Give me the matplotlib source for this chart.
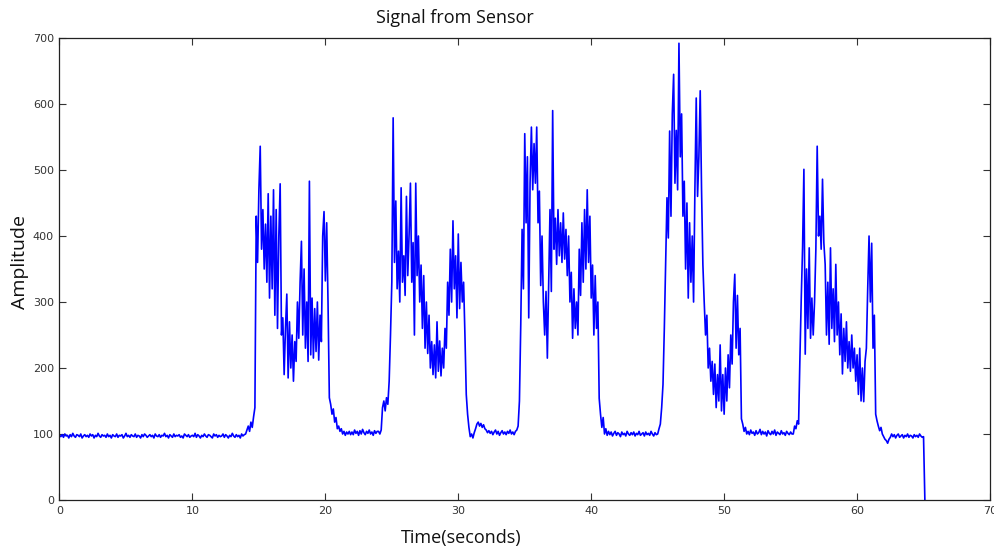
import numpy as np
import matplotlib
matplotlib.use("Agg")
import matplotlib.pyplot as plt

# ---------------- data (0.1 s sampling) ----------------
dt = 0.1

base0_start = 0.0
base0 = [
    98, 96, 99, 95, 100, 97, 98, 94, 99, 96, 101, 97, 95, 99, 98, 96, 100, 94, 97, 99,
    96, 98, 95, 100, 97, 99, 94, 98, 96, 101, 97, 95, 99, 97, 98, 95, 100, 96, 98, 94,
    99, 97, 96, 100, 95, 98, 97, 99, 94, 97, 101, 96, 98, 95, 99, 97, 96, 100, 95, 98,
    97, 94, 99, 96, 100, 98, 95, 97, 99, 96, 98, 94, 100, 97, 96, 99, 95, 98, 97, 101,
    96, 98, 94, 99, 97, 95, 100, 96, 98, 97, 99, 95, 97, 94, 100, 98, 96, 99, 95, 97,
    98, 96, 101, 95, 99, 97, 94, 98, 96, 100, 97, 95, 99, 98, 96, 94, 100, 97, 99, 95,
    98, 96, 97, 100, 95, 99, 97, 94, 98, 96, 101, 97, 95, 99, 96, 98, 94, 100, 97, 99]

burst1_start = 14.0
burst1 = [
    100, 106, 112, 104, 118, 110, 126, 140, 430, 360,
    470, 536, 380, 440, 350, 418, 330, 464, 306, 430,
    320, 470, 280, 440, 260, 400, 479, 250, 276, 190,
    260, 312, 185, 270, 200, 250, 180, 240, 210, 300,
    245, 330, 392, 250, 350, 230, 300, 210, 483, 220,
    306, 215, 290, 225, 300, 212, 280, 240, 400, 437,
    332, 420, 300, 155, 145, 130, 138, 118, 125, 108,
    112, 104, 108, 100, 104, 98, 103, 100, 104, 99]

base1_start = 22.0
base1 = [103, 99, 106, 101, 104, 98, 105, 100, 107, 102,
         99, 104, 101, 106, 100, 103, 98, 105, 101, 104]

burst2_start = 24.0
burst2 = [
    104, 100, 106, 140, 150, 135, 155, 145, 180, 250,
    330, 579, 360, 453, 320, 377, 300, 473, 330, 370,
    310, 460, 340, 403, 480, 330, 390, 250, 480, 340,
    400, 300, 356, 260, 340, 230, 300, 222, 280, 200,
    240, 190, 235, 185, 270, 195, 241, 188, 230, 200,
    260, 230, 330, 280, 380, 300, 423, 320, 370, 276,
    403, 290, 360, 300, 330, 250, 160, 130, 110, 96,
    100, 94, 102, 108, 115, 118, 112, 116, 110, 114,
    108, 106, 102]

base2_start = 32.3
base2 = [105, 101, 104, 99, 103, 106, 100, 104, 98, 102,
         105, 100, 103, 99, 104, 101, 106, 100, 103, 99, 104]

burst3_start = 34.4
burst3 = [
    106, 112, 150, 266, 410, 320, 555, 420, 520, 276,
    480, 565, 470, 540, 480, 565, 420, 468, 325, 400,
    300, 250, 316, 215, 330, 440, 316, 590, 380, 427,
    357, 440, 370, 420, 360, 435, 365, 410, 340, 400,
    300, 345, 245, 320, 260, 300, 250, 380, 310, 420,
    330, 440, 350, 470, 360, 430, 306, 356, 250, 340,
    260, 300, 154, 130, 110, 125, 100, 108, 98, 104]

base3_start = 41.4
base3 = [99, 103, 97, 101, 104, 98, 102, 100, 96, 103,
         99, 101, 97, 104, 100, 98, 102, 99, 103, 97,
         101, 99, 104, 98, 100, 102, 97, 103, 99, 101,
         98, 104, 100, 97, 102, 99]

burst4_start = 45.0
burst4 = [
    100, 108, 115, 140, 175, 260, 357, 458, 397, 559,
    430, 585, 645, 480, 560, 470, 692, 520, 585, 430,
    483, 350, 450, 306, 420, 330, 400, 300, 470, 609,
    460, 520, 620, 470, 357, 300, 250, 280, 200, 230,
    180, 210, 160, 206, 140, 190, 150, 235, 135, 190,
    130, 200, 150, 220, 170, 250, 206, 300, 342, 230,
    310, 220, 260, 123, 115, 104, 110, 100]

base4_start = 51.8
base4 = [104, 99, 106, 101, 103, 98, 105, 100, 102, 107,
         99, 104, 100, 103, 97, 105, 101, 99, 104, 100,
         106, 98, 103, 101, 99, 105, 100, 102, 98, 104,
         101, 99, 103, 100]

burst5_start = 55.2
burst5 = [
    100, 112, 108, 120, 115, 215, 305, 382, 501, 221,
    350, 260, 382, 245, 306, 250, 300, 380, 536, 400,
    430, 380, 486, 390, 357, 250, 330, 236, 382, 260,
    320, 240, 357, 250, 300, 220, 282, 191, 260, 210,
    270, 200, 240, 195, 250, 200, 230, 180, 220, 160,
    230, 150, 200, 149, 210, 230, 320, 400, 300, 389,
    230, 280, 130, 120, 112, 105, 110, 100, 96, 92,
    90, 86, 92, 95, 100]

base5_start = 62.7
base5 = [96, 99, 94, 98, 100, 95, 97, 99, 94, 98,
         96, 100, 95, 98, 97, 94, 99, 96, 98, 95,
         100, 97, 95, 96, 0]

segments = [(base0_start, base0), (burst1_start, burst1), (base1_start, base1),
            (burst2_start, burst2), (base2_start, base2), (burst3_start, burst3),
            (base3_start, base3), (burst4_start, burst4), (base4_start, base4),
            (burst5_start, burst5), (base5_start, base5)]

x_ticks = [0, 10, 20, 30, 40, 50, 60, 70]
y_ticks = [0, 100, 200, 300, 400, 500, 600, 700]

t_all = np.concatenate([s + np.arange(len(v)) * dt for s, v in segments])
v_all = np.concatenate([np.asarray(v, float) for s, v in segments])

# ---------------- figure ----------------
W, H = 995, 550
fig = plt.figure(figsize=(W / 100, H / 100), dpi=100)
ax = fig.add_axes([59.5 / W, 1 - 500 / H, (990 - 59.5) / W, (500 - 38) / H])

ax.plot(t_all, v_all, color="#0000ff", lw=1.2)

ax.set_xlim(0, 70)
ax.set_ylim(0, 700)
ax.set_xticks(x_ticks)
ax.set_yticks(y_ticks)
ax.tick_params(direction="in", length=5, width=0.8, top=True, right=True,
               labelsize=8, labelcolor="#333333", color="#333333", pad=4)
for sp in ax.spines.values():
    sp.set_linewidth(0.9)
    sp.set_color("#222222")

fig.text(455 / W, 1 - 18 / H, "Signal from Sensor", ha="center", va="center",
         fontsize=13, family="Open Sans", color="#111111")
fig.text(461 / W, 1 - 538 / H, "Time(seconds)", ha="center", va="center",
         fontsize=13, family="Open Sans", color="#111111")
fig.text(20 / W, 1 - 262 / H, "Amplitude", ha="center", va="center", rotation=90,
         fontsize=14, family="Open Sans", color="#111111")

fig.savefig("out.png", dpi=100)
